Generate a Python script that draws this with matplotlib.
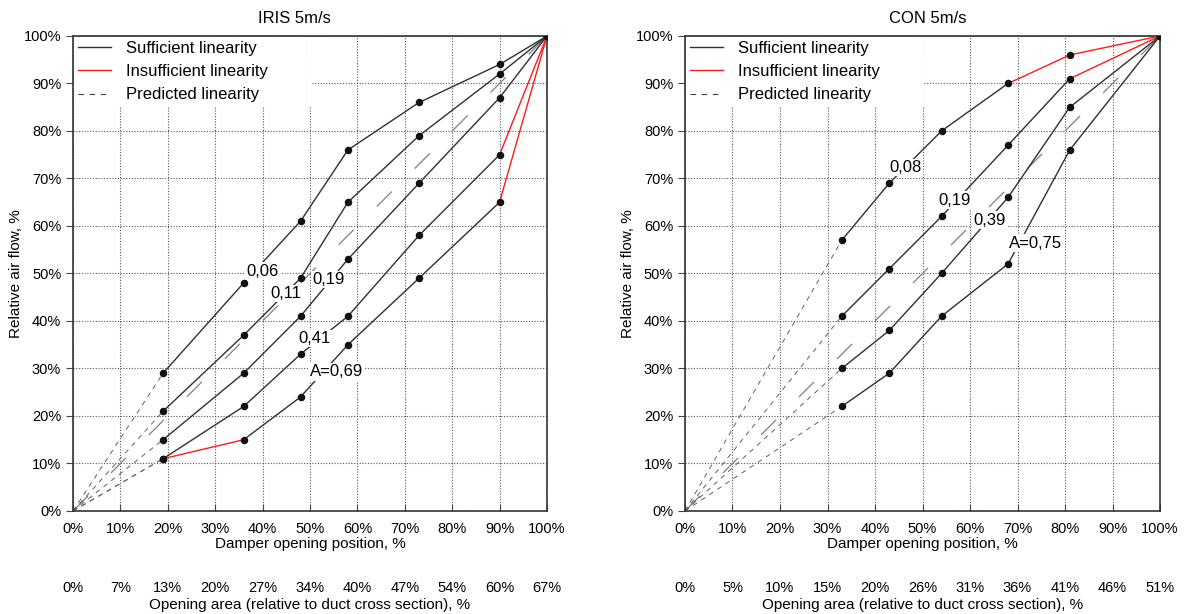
import matplotlib.pyplot as plt
from matplotlib.lines import Line2D

plt.rcParams['font.family'] = ['Liberation Sans', 'DejaVu Sans']

# damper opening positions (%) where air flow was measured
iris_x = [19, 36, 48, 58, 73, 90, 100]
con_x = [33, 43, 54, 68, 81, 100]

# relative air flow (%) per authority value
iris_labels = ['0,06', '0,11', '0,19', '0,41', 'A=0,69']
iris_flow = [
    [29, 48, 61, 76, 86, 94, 100],
    [21, 37, 49, 65, 79, 92, 100],
    [15, 29, 41, 53, 69, 87, 100],
    [11, 22, 33, 41, 58, 75, 100],
    [11, 15, 24, 35, 49, 65, 100],
]
# segment indices with insufficient linearity
iris_bad = [[], [], [], [5], [0, 5]]

con_labels = ['0,08', '0,19', '0,39', 'A=0,75']
con_flow = [
    [57, 69, 80, 90, 96, 100],
    [41, 51, 62, 77, 91, 100],
    [30, 38, 50, 66, 85, 100],
    [22, 29, 41, 52, 76, 100],
]
con_bad = [[3, 4], [4], [], []]

ticks = list(range(0, 101, 10))
iris_area = ['0%', '7%', '13%', '20%', '27%', '34%', '40%', '47%', '54%', '60%', '67%']
con_area = ['0%', '5%', '10%', '15%', '20%', '26%', '31%', '36%', '41%', '46%', '51%']

DARK = '#303030'
RED = '#ff1a1a'


def draw(ax, title, title_x, xs, flows, names, bad, area, label_xy):
    # predicted linearity: long dashed diagonal
    ax.plot([0, 100], [0, 100], color='#808080', lw=0.9, ls=(0, (17, 26)), zorder=2)
    for ys, name, badseg, (tx, ty) in zip(flows, names, bad, label_xy):
        # extrapolation to origin
        ax.plot([0, xs[0]], [0, ys[0]], color='#606060', lw=0.7, ls=(0, (5, 5)), zorder=2)
        for i in range(len(xs) - 1):
            c = RED if i in badseg else DARK
            ax.plot(xs[i:i + 2], ys[i:i + 2], color=c, lw=1.0, zorder=3)
        ax.plot(xs, ys, 'o', color='#111111', ms=4.4, zorder=6)
        ax.text(tx, ty, name, fontsize=12, ha='left', va='center', zorder=5,
                bbox=dict(facecolor='white', edgecolor='none', pad=1))

    ax.set_xlim(0, 100)
    ax.set_ylim(0, 100)
    ax.set_xticks(ticks, [f'{t}%' for t in ticks])
    ax.set_yticks(ticks, [f'{t}%' for t in ticks])
    ax.tick_params(axis='x', direction='in', length=5, pad=8, labelsize=10.5, color='#444444')
    ax.tick_params(axis='y', direction='out', length=5, labelsize=10.5, color='#444444')
    ax.grid(True, ls=(0, (1, 1.5)), lw=0.8, color='#555555')
    ax.set_axisbelow(True)
    for s in ax.spines.values():
        s.set_color('#333333')
        s.set_linewidth(1.2)

    ax.set_title(title, fontsize=12, x=title_x, pad=9)
    ax.set_xlabel('Damper opening position, %', fontsize=11, labelpad=1)
    ax.set_ylabel('Relative air flow, %', fontsize=11)
    ax.yaxis.set_label_coords(-0.105, 0.5)

    sec = ax.secondary_xaxis(-0.147)
    sec.set_xticks(ticks, area)
    sec.tick_params(length=0, pad=0, labelsize=10.5)
    sec.spines['bottom'].set_visible(False)
    sec.set_xlabel('Opening area (relative to duct cross section), %', fontsize=11, labelpad=2)

    handles = [
        Line2D([], [], color=DARK, lw=1.0),
        Line2D([], [], color=RED, lw=1.0),
        Line2D([], [], color='#404040', lw=0.8, ls=(0, (5, 5))),
    ]
    ax.legend(handles, ['Sufficient linearity', 'Insufficient linearity', 'Predicted linearity'],
              loc='upper left', bbox_to_anchor=(0.003, 0.997, 0.5, 0), mode='expand',
              fontsize=12, handlelength=2.0, handletextpad=0.9, borderpad=0.2,
              borderaxespad=0, labelspacing=0.5, frameon=True, fancybox=False,
              edgecolor='none', facecolor='white', framealpha=1)


fig = plt.figure(figsize=(11.99, 6.14), dpi=100)
ax1 = fig.add_axes([0.0609, 0.1678, 0.3953, 0.7736])
ax2 = fig.add_axes([0.5713, 0.1678, 0.3962, 0.7736])

draw(ax1, 'IRIS 5m/s', 0.467, iris_x, iris_flow, iris_labels, iris_bad, iris_area,
     [(36.6, 50.5), (41.7, 45.8), (50.4, 48.7), (47.5, 36.3), (50.0, 29.3)])
draw(ax2, 'CON 5m/s', 0.51, con_x, con_flow, con_labels, con_bad, con_area,
     [(43.0, 72.3), (53.3, 65.4), (60.8, 61.2), (68.1, 56.4)])

fig.savefig('out.png', dpi=100)
